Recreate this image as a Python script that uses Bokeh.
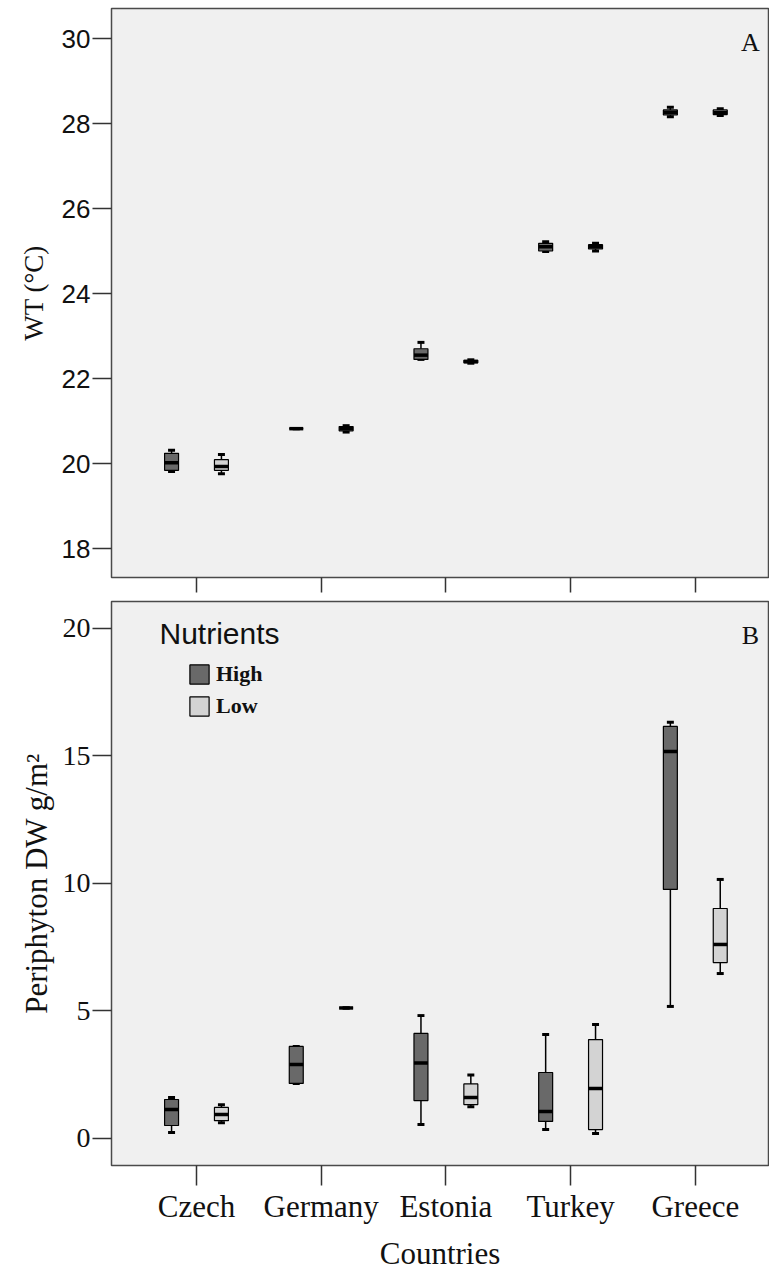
from bokeh.plotting import figure
from bokeh.layouts import column
from bokeh.models import (Range1d, FixedTicker, Legend, LegendItem, Label,
                          ColumnDataSource)
from bokeh.embed import file_html
from bokeh.resources import INLINE

# ---------------- data ----------------
countries = ["Czech", "Germany", "Estonia", "Turkey", "Greece"]
groups = ["High", "Low"]

# Water temperature (°C) box statistics
wt_high_min = [19.81, 20.82, 22.45, 24.99, 28.16]
wt_high_q1 = [19.84, 20.82, 22.45, 25.00, 28.20]
wt_high_med = [20.02, 20.82, 22.55, 25.10, 28.26]
wt_high_q3 = [20.24, 20.82, 22.70, 25.18, 28.32]
wt_high_max = [20.31, 20.82, 22.85, 25.22, 28.38]

wt_low_min = [19.76, 20.74, 22.36, 25.00, 28.19]
wt_low_q1 = [19.84, 20.77, 22.37, 25.05, 28.21]
wt_low_med = [19.93, 20.82, 22.40, 25.10, 28.26]
wt_low_q3 = [20.09, 20.87, 22.43, 25.15, 28.32]
wt_low_max = [20.21, 20.89, 22.44, 25.18, 28.35]

# Periphyton DW g/m2 box statistics
pe_high_min = [0.22, 2.14, 0.53, 0.33, 5.16]
pe_high_q1 = [0.49, 2.14, 1.47, 0.65, 9.75]
pe_high_med = [1.12, 2.88, 2.94, 1.04, 15.16]
pe_high_q3 = [1.51, 3.59, 4.10, 2.57, 16.14]
pe_high_max = [1.59, 3.59, 4.80, 4.06, 16.30]

pe_low_min = [0.60, 5.10, 1.23, 0.18, 6.45]
pe_low_q1 = [0.68, 5.10, 1.31, 0.33, 6.88]
pe_low_med = [0.92, 5.10, 1.59, 1.94, 7.59]
pe_low_q3 = [1.20, 5.10, 2.12, 3.86, 9.00]
pe_low_max = [1.30, 5.10, 2.47, 4.45, 10.14]

wt_ticks = [18, 20, 22, 24, 26, 28, 30]
pe_ticks = [0, 5, 10, 15, 20]

# ---------------- style ----------------
HIGH_FILL = "#696969"
LOW_FILL = "#D3D3D3"
BG = "#F0F0F0"
FRAME = "#4a4a4a"
OFFSET = 0.2
BOX_W = 0.112
CAP_W = 0.056
X_START, X_END = -0.6816, 4.587

SANS = "Liberation Sans"
SERIF = "Liberation Serif"


def base_fig(frame_h, y0, y1, top_b, bot_b):
    p = figure(frame_width=657, frame_height=frame_h,
               x_range=Range1d(X_START, X_END), y_range=Range1d(y0, y1),
               output_backend="svg", toolbar_location=None,
               min_border_left=111, min_border_right=1,
               min_border_top=top_b, min_border_bottom=bot_b,
               background_fill_color=BG, border_fill_color="white")
    p.xgrid.visible = False
    p.ygrid.visible = False
    p.outline_line_color = FRAME
    p.outline_line_width = 1.5
    for ax in (p.xaxis[0], p.yaxis[0]):
        ax.axis_line_color = None
        ax.major_tick_line_color = "#333333"
        ax.major_tick_line_width = 1.5
        ax.major_tick_in = 0
        ax.minor_tick_line_color = None
        ax.major_label_text_color = "#111111"
        ax.axis_label_text_font_style = "normal"
        ax.axis_label_text_color = "#111111"
    p.xaxis.ticker = FixedTicker(ticks=list(range(len(countries))))
    return p


def draw_boxes(p, off, mn, q1, med, q3, mx, fill):
    xs = [i + off for i in range(len(countries))]
    src = ColumnDataSource(dict(
        x=xs, mn=mn, q1=q1, med=med, q3=q3, mx=mx,
        xl=[x - BOX_W / 2 for x in xs], xr=[x + BOX_W / 2 for x in xs],
        cl=[x - CAP_W / 2 for x in xs], cr=[x + CAP_W / 2 for x in xs]))
    p.segment(x0="x", x1="x", y0="q3", y1="mx", source=src,
              line_color="black", line_width=1.5)
    p.segment(x0="x", x1="x", y0="q1", y1="mn", source=src,
              line_color="black", line_width=1.5)
    p.segment(x0="cl", x1="cr", y0="mx", y1="mx", source=src,
              line_color="black", line_width=3)
    p.segment(x0="cl", x1="cr", y0="mn", y1="mn", source=src,
              line_color="black", line_width=3)
    r = p.vbar(x="x", width=BOX_W, bottom="q1", top="q3", source=src,
               fill_color=fill, line_color="black", line_width=1.2)
    p.segment(x0="xl", x1="xr", y0="med", y1="med", source=src,
              line_color="black", line_width=3.5)
    return r


# ---------------- panel A ----------------
p1 = base_fig(569, 17.318, 30.706, 8, 19)
p1.yaxis.ticker = FixedTicker(ticks=wt_ticks)
p1.yaxis.major_tick_out = 19
p1.yaxis.major_label_standoff = 2
p1.yaxis.major_label_text_font = SANS
p1.yaxis.major_label_text_font_size = "26px"
p1.yaxis.axis_label = "WT (°C)"
p1.yaxis.axis_label_text_font = SERIF
p1.yaxis.axis_label_text_font_size = "27px"
p1.yaxis.axis_label_standoff = 10
p1.xaxis.major_tick_out = 15
p1.xaxis.major_label_text_font_size = "0px"
p1.xaxis.major_label_standoff = 0
p1.xaxis.major_label_overrides = {i: "" for i in range(len(countries))}

draw_boxes(p1, -OFFSET, wt_high_min, wt_high_q1, wt_high_med, wt_high_q3,
           wt_high_max, HIGH_FILL)
draw_boxes(p1, OFFSET, wt_low_min, wt_low_q1, wt_low_med, wt_low_q3,
           wt_low_max, LOW_FILL)
p1.add_layout(Label(x=639, y=535, x_units="screen", y_units="screen",
                    text="A", text_font=SERIF, text_font_size="26px",
                    text_align="center", text_baseline="middle",
                    text_color="#111111"))

# ---------------- panel B ----------------
p2 = base_fig(564, -1.078, 21.04, 5, 100)
p2.yaxis.ticker = FixedTicker(ticks=pe_ticks)
p2.yaxis.major_tick_out = 19
p2.yaxis.major_label_standoff = 2
p2.yaxis.major_label_text_font = SERIF
p2.yaxis.major_label_text_font_size = "28px"
p2.yaxis.axis_label = "Periphyton DW g/m²"
p2.yaxis.axis_label_text_font = SERIF
p2.yaxis.axis_label_text_font_size = "31px"
p2.yaxis.axis_label_standoff = 6
p2.xaxis.major_tick_out = 20
p2.xaxis.major_label_standoff = 3
p2.xaxis.major_label_text_font = SERIF
p2.xaxis.major_label_text_font_size = "31px"
p2.xaxis.major_label_overrides = {i: c for i, c in enumerate(countries)}
p2.xaxis.axis_label = "Countries"
p2.xaxis.axis_label_text_font = SERIF
p2.xaxis.axis_label_text_font_size = "31px"
p2.xaxis.axis_label_standoff = 9

rh = draw_boxes(p2, -OFFSET, pe_high_min, pe_high_q1, pe_high_med,
                pe_high_q3, pe_high_max, HIGH_FILL)
rl = draw_boxes(p2, OFFSET, pe_low_min, pe_low_q1, pe_low_med, pe_low_q3,
                pe_low_max, LOW_FILL)

legend = Legend(items=[LegendItem(label=groups[0], renderers=[rh]),
                       LegendItem(label=groups[1], renderers=[rl])],
                location=(76, 446), padding=0, margin=0, spacing=6,
                glyph_width=24, glyph_height=24, label_height=24,
                label_standoff=5, label_text_font=SERIF,
                label_text_font_style="bold", label_text_font_size="22px",
                label_text_color="#111111",
                background_fill_alpha=0, border_line_alpha=0)
p2.add_layout(legend)
p2.add_layout(Label(x=48, y=532, x_units="screen", y_units="screen",
                    text="Nutrients", text_font=SANS, text_font_size="30px",
                    text_baseline="middle", text_color="#111111"))
p2.add_layout(Label(x=639, y=530, x_units="screen", y_units="screen",
                    text="B", text_font=SERIF, text_font_size="26px",
                    text_align="center", text_baseline="middle",
                    text_color="#111111"))

layout = column(p1, p2, spacing=0)
open("out.html", "w").write(file_html(layout, INLINE))
